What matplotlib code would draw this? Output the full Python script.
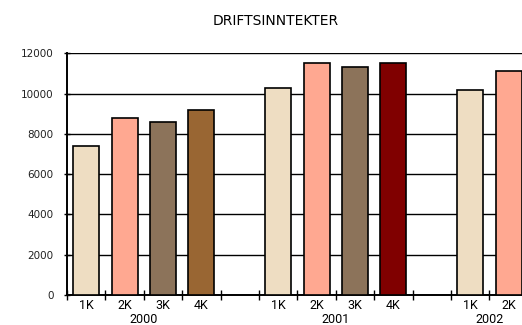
import matplotlib
matplotlib.use("Agg")
import matplotlib.pyplot as plt
import matplotlib.transforms as mtransforms

# Operating revenue per quarter, grouped by year
years = ["2000", "2001", "2002"]
quarters = [["1K", "2K", "3K", "4K"], ["1K", "2K", "3K", "4K"], ["1K", "2K"]]
values = [[7400, 8800, 8600, 9200], [10300, 11500, 11300, 11500], [10200, 11100]]
colors = [["#EEDDC2", "#FFA891", "#8C735A", "#996633"],
          ["#EEDDC2", "#FFA891", "#8C735A", "#800000"],
          ["#EEDDC2", "#FFA891"]]
yticks = [0, 2000, 4000, 6000, 8000, 10000, 12000]

W, H = 522, 325
SLOT = 38.4  # pixel width of one category slot
AX_H = 295 - 53.3
fig = plt.figure(figsize=(W / 100, H / 100), dpi=100)
ax = fig.add_axes([67 / W, 30 / H, (W - 67) / W, AX_H / H])

pos = 0
centers, labels, group_centers = [], [], []
for gi, (yr, qs, vs, cs) in enumerate(zip(years, quarters, values, colors)):
    start = pos
    for q, v, c in zip(qs, vs, cs):
        ax.bar(pos, v, width=0.68, color=c, edgecolor="black", linewidth=1.2, zorder=3)
        centers.append(pos)
        labels.append(q)
        pos += 1
    group_centers.append((start + pos - 1) / 2)
    pos += 1  # gap slot between years

# horizontal gridlines
ax.set_yticks(yticks)
ax.set_yticklabels([str(t) for t in yticks], fontsize=7.5, fontfamily="DejaVu Sans",
                   color="#222222")
ax.yaxis.grid(True, color="black", linewidth=1.0, zorder=0)
ax.set_axisbelow(True)

# category boundaries as ticks, quarter names centered in slots
ax.set_xticks([b - 0.5 for b in range(0, 14)])
ax.set_xticklabels([])
ax.set_xticks(centers, minor=True)
ax.set_xticklabels(labels, minor=True, fontsize=9, fontfamily="Roboto")
ax.tick_params(axis="x", which="major", direction="inout", length=7, width=1.0)
ax.tick_params(axis="x", which="minor", length=0, pad=3)
ax.tick_params(axis="y", direction="inout", length=5, width=1.0, pad=7)

ax.set_xlim(-0.5, -0.5 + (W - 67) / SLOT)
ax.set_ylim(0, 12000)

# year names under each group of quarters
trans = mtransforms.blended_transform_factory(ax.transData, ax.transAxes)
for yr, gc in zip(years, group_centers):
    ax.text(gc, -(323 - 295) / AX_H, yr, transform=trans, ha="center", va="baseline",
            fontsize=9, fontfamily="Roboto", clip_on=False)

for s in ["top", "right"]:
    ax.spines[s].set_visible(False)
ax.spines["left"].set_linewidth(1.4)
ax.spines["bottom"].set_linewidth(1.4)

fig.text(276 / W, 1 - 21 / H, "DRIFTSINNTEKTER", ha="center", va="center",
         fontsize=10, fontfamily="DejaVu Sans")

fig.savefig("out.png", dpi=100)
